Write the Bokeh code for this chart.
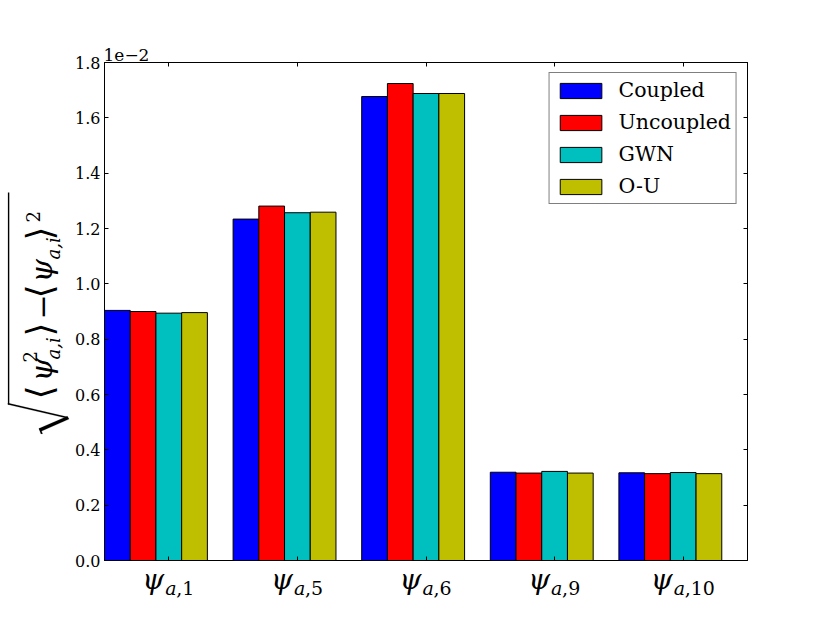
import math
from bokeh.plotting import figure
from bokeh.layouts import row, column
from bokeh.models import (Range1d, FixedTicker, LinearAxis, Label, BoxAnnotation, PolyAnnotation,
                          CustomJSTickFormatter, PrintfTickFormatter)
from bokeh.embed import file_html
from bokeh.resources import INLINE

# ---- data (values in units of 1e-2) ----
cat_symbol = "ψ"
cat_sub_var = "a"
cat_sub_idx = ["1", "5", "6", "9", "10"]
series_names = ["Coupled", "Uncoupled", "GWN", "O-U"]
coupled = [0.904, 1.234, 1.677, 0.319, 0.317]
uncoupled = [0.900, 1.281, 1.724, 0.316, 0.314]
gwn = [0.894, 1.257, 1.688, 0.322, 0.318]
ou = [0.896, 1.259, 1.688, 0.316, 0.314]
y_ticks = [0.0, 0.2, 0.4, 0.6, 0.8, 1.0, 1.2, 1.4, 1.6, 1.8]
y_offset_text = "1e\u22122"

series_values = [coupled, uncoupled, gwn, ou]
series_colors = ["#0000ff", "#ff0000", "#00bfbf", "#bfbf00"]

FONT = "DejaVu Serif"
MID = 0.33            # baseline -> middle offset (em)
TOTAL_W, TOTAL_H = 814, 607
LEFT_W = 70           # strip holding the y label
FRAME_L = 104 - LEFT_W
FRAME_W = 643
FRAME_T = 62
FRAME_H = 498
FRAME_B = 10
MAIN_W = TOTAL_W - LEFT_W
MAIN_H = FRAME_T + FRAME_H + FRAME_B
FRAME_R = MAIN_W - FRAME_L - FRAME_W
BOT_H = TOTAL_H - MAIN_H   # strip holding the category labels

def strip(w, h, **kw):
    f = figure(width=w, height=h, output_backend="svg", toolbar_location=None,
               title_location=None, x_axis_type=None, y_axis_type=None, min_border=0, **kw)
    f.outline_line_color = None
    f.xgrid.visible = False
    f.ygrid.visible = False
    return f

# ---------------- main chart ----------------
p = figure(width=MAIN_W, height=MAIN_H, output_backend="svg", toolbar_location=None,
           x_range=Range1d(0, len(cat_sub_idx)), y_range=Range1d(0, 1.8),
           min_border_left=FRAME_L, min_border_right=FRAME_R,
           min_border_top=FRAME_T, min_border_bottom=FRAME_B)
p.outline_line_color = "black"
p.outline_line_width = 1
p.xgrid.visible = False
p.ygrid.visible = False

# offset text ("1e-2") as a left-aligned title
p.title.text = y_offset_text
p.title.align = "left"
p.title.offset = -1
p.title.standoff = 4
p.title.text_font = FONT
p.title.text_font_size = "17px"
p.title.text_font_style = "normal"
p.title.text_color = "black"

bar_w = 0.2
for k, (name, vals, col) in enumerate(zip(series_names, series_values, series_colors)):
    xs = [i + bar_w / 2 + bar_w * k for i in range(len(vals))]
    p.vbar(x=xs, top=vals, width=bar_w, bottom=0, fill_color=col, line_color="black",
           line_width=1, legend_label=name)

x_tick_pos = [i + 0.5 for i in range(len(cat_sub_idx))]
empty_fmt = CustomJSTickFormatter(code="return ''")

def style_axis(ax, hidden_labels=False):
    ax.axis_line_color = "black"
    ax.major_tick_line_color = "black"
    ax.major_tick_in = 4
    ax.major_tick_out = 0
    ax.minor_tick_line_color = None
    ax.major_label_text_font = FONT
    ax.major_label_text_font_size = "16px"
    ax.major_label_text_color = "black"
    if hidden_labels:
        ax.formatter = empty_fmt
        ax.major_label_text_font_size = "1px"
        ax.major_label_standoff = 0

xb = p.xaxis[0]
xb.ticker = FixedTicker(ticks=x_tick_pos)
style_axis(xb, True)
yl = p.yaxis[0]
yl.ticker = FixedTicker(ticks=y_ticks)
yl.formatter = PrintfTickFormatter(format="%.1f")
style_axis(yl)
yl.major_label_standoff = 4
xt = LinearAxis(ticker=FixedTicker(ticks=x_tick_pos))
style_axis(xt, True)
p.add_layout(xt, "above")
yr = LinearAxis(ticker=FixedTicker(ticks=y_ticks))
style_axis(yr, True)
p.add_layout(yr, "right")

lg = p.legend[0]
lg.location = "top_right"
lg.margin = 10
lg.border_line_color = "black"
lg.border_line_width = 1
lg.background_fill_alpha = 1
lg.label_text_font = FONT
lg.label_text_font_size = "20.5px"
lg.label_text_color = "black"
lg.glyph_width = 52
lg.glyph_height = 19
lg.label_standoff = 12
lg.label_height = 22
lg.spacing = 8
lg.padding = 5

# ---------------- bottom strip: category labels ----------------
bot = strip(MAIN_W, BOT_H, x_range=p.x_range, y_range=Range1d(0, 1))
bot.min_border_left = FRAME_L
bot.min_border_right = FRAME_R
char_w = {"a": 11.0, ",": 6.0}
PSI_SIZE, SUB_SIZE = 28, 19
psi_mid = TOTAL_H - (588 - MID * PSI_SIZE)
sub_mid = TOTAL_H - (594 - MID * SUB_SIZE)
for i, idx in enumerate(cat_sub_idx):
    w_psi = 21.0
    w_a = char_w["a"]
    w_rest = char_w[","] + 12.0 * len(idx)
    total = w_psi + 1 + w_a + w_rest
    left = -total / 2
    bot.add_layout(Label(x=x_tick_pos[i], y=psi_mid, y_units="screen", text=cat_symbol,
                         text_font=FONT, text_font_style="italic",
                         text_font_size=f"{PSI_SIZE}px", text_color="black",
                         text_align="right", text_baseline="middle", x_offset=left + w_psi))
    bot.add_layout(Label(x=x_tick_pos[i], y=sub_mid, y_units="screen", text=cat_sub_var,
                         text_font=FONT, text_font_style="italic",
                         text_font_size=f"{SUB_SIZE}px", text_color="black",
                         text_align="left", text_baseline="middle", x_offset=left + w_psi + 1))
    bot.add_layout(Label(x=x_tick_pos[i], y=sub_mid, y_units="screen", text="," + idx,
                         text_font=FONT, text_font_size=f"{SUB_SIZE}px", text_color="black",
                         text_align="left", text_baseline="middle",
                         x_offset=left + w_psi + 1 + w_a))

# ---------------- left strip: y label ----------------
lft = strip(LEFT_W, TOTAL_H, x_range=Range1d(0, 1), y_range=Range1d(0, 1))

def ypiece(text, base_x, start_y, size, style="normal"):
    lft.add_layout(Label(x=base_x - MID * size, y=TOTAL_H - start_y,
                         x_units="screen", y_units="screen",
                         text=text, angle=math.pi / 2, text_font=FONT,
                         text_font_style=style, text_font_size=f"{size}px",
                         text_color="black", text_align="left", text_baseline="middle"))

ypiece("\u27e8", 51, 399, 36)
ypiece("ψ", 51, 381, 30, "italic")
ypiece("2", 35, 362, 18)
ypiece("a,i", 59, 359, 18, "italic")
ypiece("\u27e9", 51, 336, 36)
ypiece("\u2212", 51, 319, 30)
ypiece("\u27e8", 51, 298, 36)
ypiece("ψ", 51, 282, 30, "italic")
ypiece("a,i", 59, 259, 18, "italic")
ypiece("\u27e9", 51, 240, 36)
ypiece("2", 38, 222, 18)

# radical sign: vinculum + strokes
def poly(pts):
    lft.add_layout(PolyAnnotation(xs=[q[0] for q in pts], ys=[TOTAL_H - q[1] for q in pts],
                                  xs_units="screen", ys_units="screen",
                                  fill_color="black", fill_alpha=1,
                                  line_color="black", line_width=0.5))

lft.add_layout(BoxAnnotation(left=7.4, right=8.8, bottom=TOTAL_H - 404, top=TOTAL_H - 192,
                             left_units="screen", right_units="screen",
                             bottom_units="screen", top_units="screen",
                             fill_color="black", fill_alpha=1, line_color=None))
poly([(7.4, 402.6), (67.5, 416.6), (67.5, 418.0), (7.4, 404.0)])
poly([(66.8, 415.8), (68.6, 418.6), (40.2, 431.0), (38.4, 428.0)])
poly([(38.4, 428.0), (40.0, 428.6), (42.2, 433.2), (40.4, 433.4)])

layout = row(lft, column(p, bot))
open("out.html", "w").write(file_html(layout, INLINE))
